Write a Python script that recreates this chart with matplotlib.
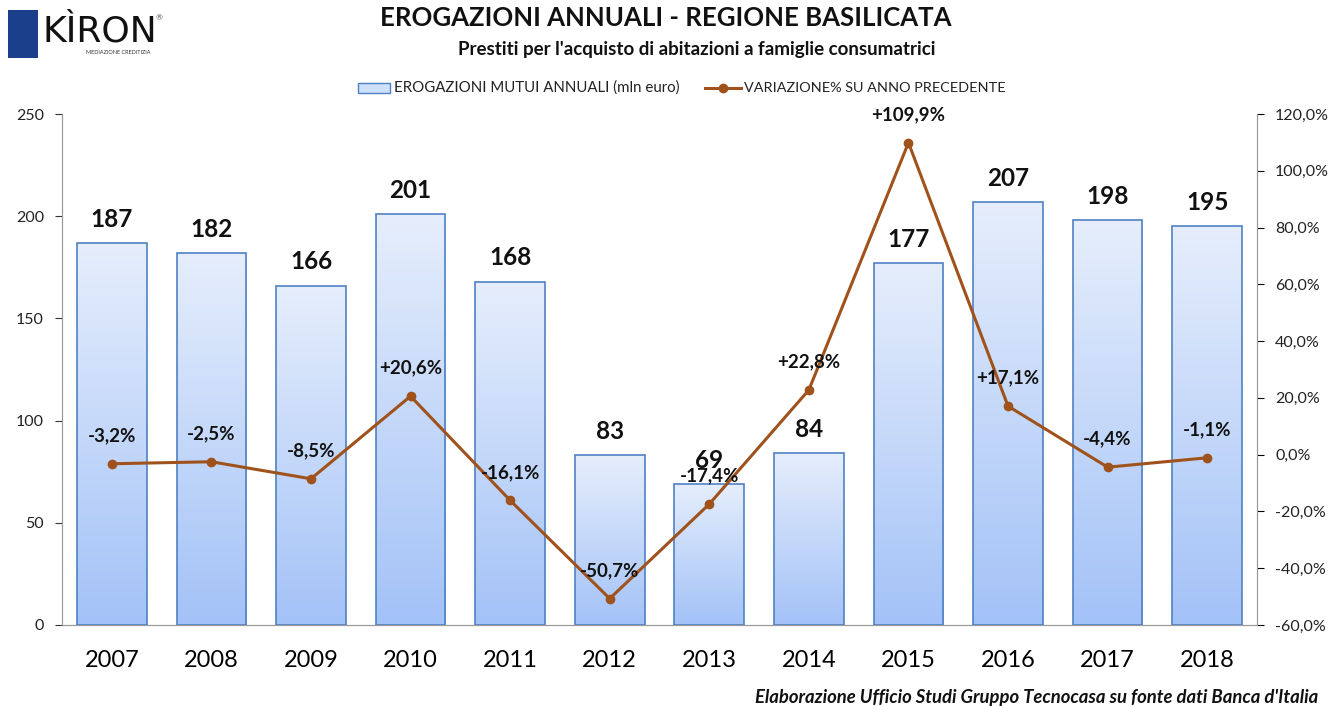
import numpy as np
import matplotlib
matplotlib.use("Agg")
import matplotlib.pyplot as plt
from matplotlib.patches import Rectangle
from matplotlib.colors import LinearSegmentedColormap

plt.rcParams['font.family'] = ['Lato', 'DejaVu Sans']

years = ['2007', '2008', '2009', '2010', '2011', '2012', '2013', '2014', '2015', '2016', '2017', '2018']
erogazioni = [187, 182, 166, 201, 168, 83, 69, 84, 177, 207, 198, 195]
variazione = [-3.2, -2.5, -8.5, 20.6, -16.1, -50.7, -17.4, 22.8, 109.9, 17.1, -4.4, -1.1]

left_ticks = [0, 50, 100, 150, 200, 250]
right_ticks = [-60, -40, -20, 0, 20, 40, 60, 80, 100, 120]

line_col = '#a0521c'
edge_col = '#4f81c4'

fig = plt.figure(figsize=(13.38, 7.06), dpi=100)
ax = fig.add_axes([62 / 1338, 1 - 625 / 706, 1195 / 1338, 511 / 706])
ax2 = ax.twinx()

x = np.arange(len(years))
width = 0.70
bars = ax.bar(x, erogazioni, width=width, facecolor='none', edgecolor=edge_col, linewidth=1.2, zorder=3)

# gradient fill inside the bars
cmap = LinearSegmentedColormap.from_list('g', ['#a3c2f7', '#e6eefc'])
grad = np.linspace(0, 1, 256).reshape(-1, 1)
for b in bars:
    bx, by, bw, bh = b.get_x(), b.get_y(), b.get_width(), b.get_height()
    im = ax.imshow(grad, extent=[bx, bx + bw, 0, bh], origin='lower', aspect='auto', cmap=cmap, zorder=2)
    im.set_clip_path(Rectangle((bx, by), bw, bh, transform=ax.transData))
    ax.text(bx + bw / 2, bh + 6, f'{bh:.0f}', ha='center', va='bottom', fontsize=17.5,
            fontweight='bold', color='#111111', zorder=5)

ax.set_xlim(-0.5, len(years) - 0.5)
ax.set_ylim(0, 250)
ax.set_yticks(left_ticks)
ax.set_xticks(x)
ax.set_xticklabels(years, fontsize=17)
ax.tick_params(axis='x', length=0, pad=18)
ax.tick_params(axis='y', labelsize=11.5, colors='#333333', length=5, direction='out', pad=8)
ax.set_yticklabels([str(t) for t in left_ticks], color='#222222')

ax2.plot(x, variazione, color=line_col, linewidth=2.2, marker='o', markersize=6, zorder=4)
ax2.set_ylim(-60, 120)
ax2.set_yticks(right_ticks)
ax2.set_yticklabels([f'{t},0%' for t in right_ticks], color='#222222')
ax2.tick_params(axis='y', labelsize=11.5, length=5, direction='out', pad=8)

for xi, v in zip(x, variazione):
    lab = f'{v:+.1f}%'.replace('.', ',')
    ax2.annotate(lab, (xi, v), xytext=(0, 14), textcoords='offset points', ha='center', va='bottom',
                 fontsize=13.5, fontweight='bold', color='#111111', zorder=6)

for a in (ax, ax2):
    a.spines['top'].set_visible(False)
    for s in ['left', 'right', 'bottom']:
        a.spines[s].set_color('#9a9a9a')
ax.set_zorder(ax2.get_zorder() - 1)
ax2.patch.set_visible(False)

# titles
fig.text(666 / 1338, 1 - 18 / 706, 'EROGAZIONI ANNUALI - REGIONE BASILICATA', ha='center', va='center',
         fontsize=18.5, fontweight='bold', color='#111111')
fig.text(697 / 1338, 1 - 49 / 706, "Prestiti per l'acquisto di abitazioni a famiglie consumatrici", ha='center',
         va='center', fontsize=13.5, fontweight='bold', color='#111111')

# legend
fig.patches.append(Rectangle((358 / 1338, 1 - 93 / 706), 32 / 1338, 10 / 706, transform=fig.transFigure,
                             facecolor='#cfe0fb', edgecolor=edge_col, linewidth=1))
fig.text(394 / 1338, 1 - 88 / 706, 'EROGAZIONI MUTUI ANNUALI (mln euro)', ha='left', va='center', fontsize=10.8,
         color='#222222')
fig.lines.append(plt.Line2D([705 / 1338, 741 / 1338], [1 - 88 / 706, 1 - 88 / 706], transform=fig.transFigure,
                            color=line_col, linewidth=2.2))
fig.lines.append(plt.Line2D([723 / 1338], [1 - 88 / 706], transform=fig.transFigure, color=line_col,
                            marker='o', markersize=6))
fig.text(744 / 1338, 1 - 88 / 706, 'VARIAZIONE% SU ANNO PRECEDENTE', ha='left', va='center', fontsize=10.4,
         color='#222222')

# footer
fig.text(1318 / 1338, 1 - 697 / 706, "Elaborazione Ufficio Studi Gruppo Tecnocasa su fonte dati Banca d'Italia",
         ha='right', va='center', fontsize=13.3, fontstyle='italic', fontweight='bold', color='#111111')

# logo
fig.patches.append(Rectangle((8 / 1338, 1 - 58 / 706), 30 / 1338, 48 / 706, transform=fig.transFigure,
                             facecolor='#1c3f8c', edgecolor='none'))
fig.text(42 / 1338, 1 - 31 / 706, 'KÌRON', ha='left', va='center', fontsize=26, color='#111111',
         fontfamily='DejaVu Sans')
fig.text(156 / 1338, 1 - 18 / 706, '®', ha='left', va='center', fontsize=6, color='#555555')
fig.text(86 / 1338, 1 - 53 / 706, 'MEDIAZIONE CREDITIZIA', ha='left', va='center', fontsize=4, color='#333333')

fig.savefig('out.png', dpi=100)
